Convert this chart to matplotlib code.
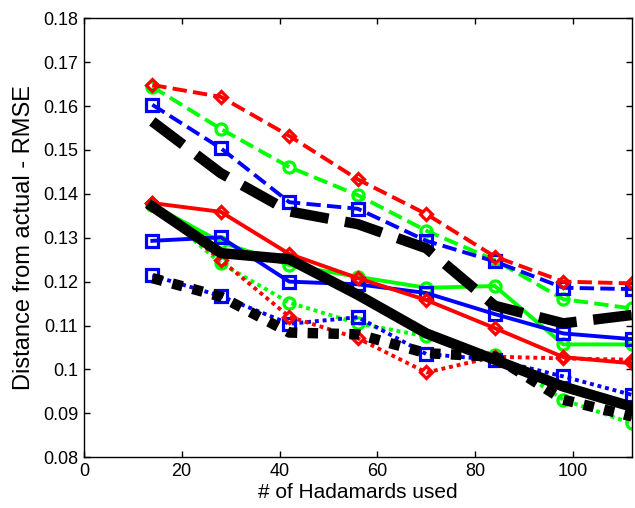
import matplotlib.pyplot as plt

plt.rcParams['font.family'] = ['Liberation Sans', 'DejaVu Sans']

# number of Hadamards used
x = [14, 28, 42, 56, 70, 84, 98, 112]

# coloured series (dashed / solid / dotted)
red_dash = [0.1648, 0.1621, 0.1532, 0.1433, 0.1354, 0.1257, 0.1200, 0.1196]
green_dash = [0.1644, 0.1548, 0.1461, 0.1397, 0.1316, 0.1249, 0.1160, 0.1139]
blue_dash = [0.1603, 0.1504, 0.1381, 0.1366, 0.1293, 0.1246, 0.1186, 0.1183]

red_solid = [0.1379, 0.1359, 0.1263, 0.1208, 0.1158, 0.1094, 0.1028, 0.1014]
green_solid = [0.1375, 0.1290, 0.1238, 0.1211, 0.1186, 0.1190, 0.1057, 0.1057]
blue_solid = [0.1293, 0.1301, 0.1200, 0.1194, 0.1174, 0.1126, 0.1082, 0.1069]

red_dot = [0.1380, 0.1249, 0.1120, 0.1071, 0.0993, 0.1029, 0.1025, 0.1022]
green_dot = [0.1375, 0.1242, 0.1152, 0.1105, 0.1075, 0.1033, 0.0931, 0.0877]
blue_dot = [0.1214, 0.1167, 0.1104, 0.1119, 0.1035, 0.1022, 0.0984, 0.0942]

# black thick series
black_dash = [0.1565, 0.1447, 0.1360, 0.1331, 0.1276, 0.1145, 0.1105, 0.1124]
black_solid = [0.1371, 0.1265, 0.1251, 0.1170, 0.1082, 0.1022, 0.0961, 0.0915]
black_dot = [0.1208, 0.1166, 0.1084, 0.1080, 0.1037, 0.1029, 0.0931, 0.0893]

fig = plt.figure(figsize=(6.35, 5.08), dpi=100)
ax = fig.add_axes([0.132, 0.1, 0.863, 0.864])

lw = 2.8
mk = dict(markerfacecolor='none', markeredgewidth=2.3)

styles = {'dash': '--', 'solid': '-', 'dot': (0, (1, 1))}

# green first, then blue, then red, black on top
for ys, ls in [(green_dash, 'dash'), (green_solid, 'solid'), (green_dot, 'dot')]:
    ax.plot(x, ys, color=(0, 1, 0), linestyle=styles[ls], lw=lw, marker='o', markersize=8,
            markeredgecolor=(0, 1, 0), **mk)
for ys, ls in [(blue_dash, 'dash'), (blue_solid, 'solid'), (blue_dot, 'dot')]:
    ax.plot(x, ys, color=(0, 0, 1), linestyle=styles[ls], lw=lw, marker='s', markersize=8,
            markeredgecolor=(0, 0, 1), **mk)
for ys, ls in [(red_dash, 'dash'), (red_solid, 'solid'), (red_dot, 'dot')]:
    ax.plot(x, ys, color=(1, 0, 0), linestyle=styles[ls], lw=lw, marker='D', markersize=6.5,
            markeredgecolor=(1, 0, 0), **mk)

ax.plot(x, black_dash, color='k', linestyle='--', lw=7.5)
ax.plot(x, black_solid, color='k', linestyle='-', lw=7.5)
ax.plot(x, black_dot, color='k', linestyle=(0, (1, 1)), lw=7.5)

ax.set_xlim(0, 112)
ax.set_ylim(0.08, 0.18)
ax.set_xticks([0, 20, 40, 60, 80, 100])
ax.set_yticks([0.08, 0.09, 0.1, 0.11, 0.12, 0.13, 0.14, 0.15, 0.16, 0.17, 0.18])
ax.set_yticklabels(['0.08', '0.09', '0.1', '0.11', '0.12', '0.13', '0.14', '0.15', '0.16', '0.17', '0.18'])
ax.tick_params(direction='in', top=True, right=True, length=4, width=1, labelsize=13, pad=4)
for s in ax.spines.values():
    s.set_linewidth(1)

ax.set_xlabel('# of Hadamards used', fontsize=15, labelpad=2)
ax.set_ylabel('Distance from actual - RMSE', fontsize=17, labelpad=6)

plt.savefig('out.png', dpi=100)
